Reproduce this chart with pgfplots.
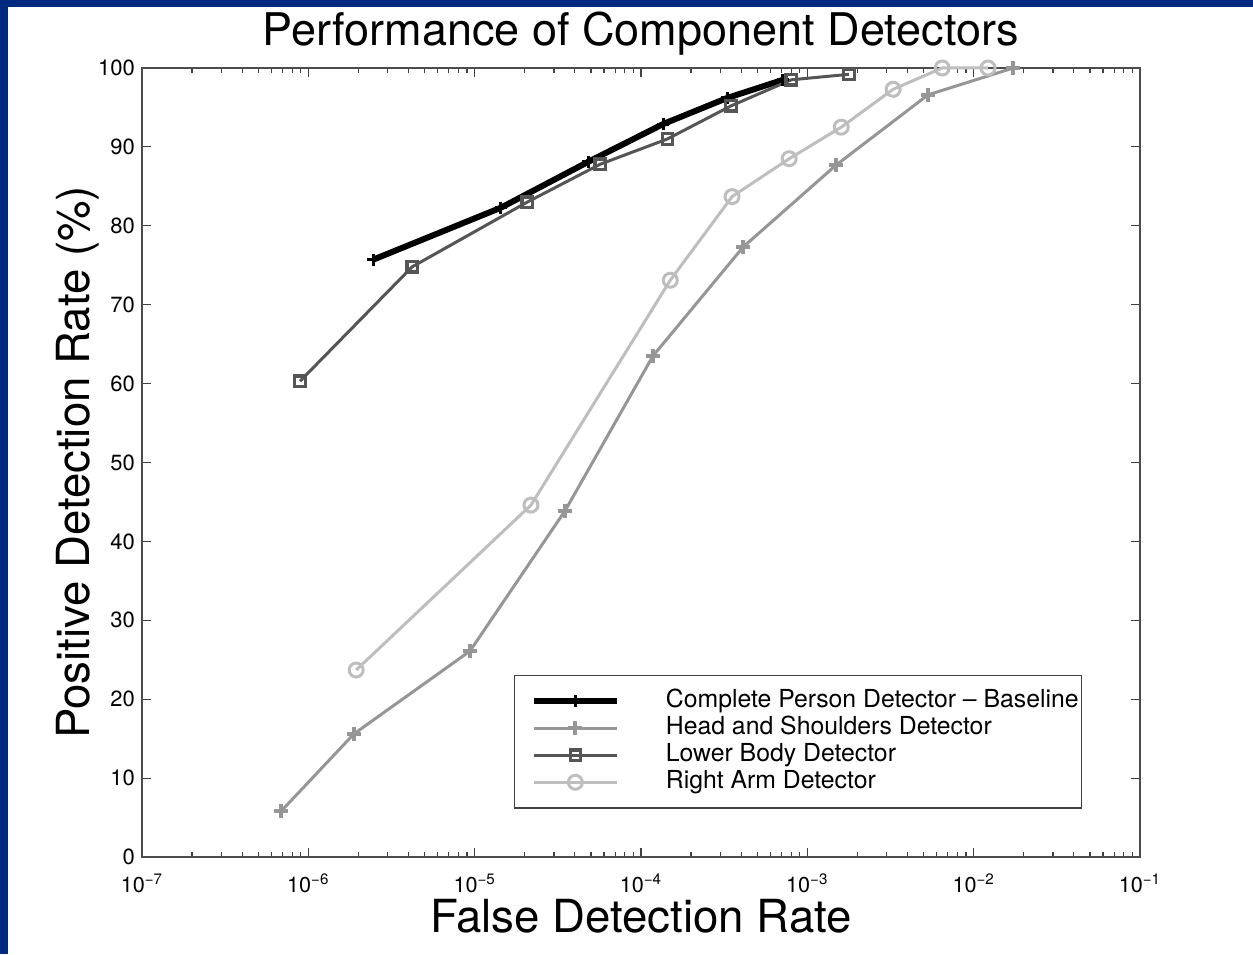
\documentclass[border=0pt]{standalone}
\usepackage{pgfplots}
\pgfplotsset{compat=1.18}
\usepackage{fontspec}
\setmainfont{TeX Gyre Heros}
\definecolor{slideblue}{RGB}{0,42,128}
\definecolor{hsgray}{RGB}{150,150,150}
\definecolor{lbgray}{RGB}{85,85,85}
\definecolor{ragray}{RGB}{190,190,190}
\begin{document}
\begin{tikzpicture}
% slide background: blue band on top and left
\fill[slideblue] (0,0) rectangle (626.5pt,477pt);
\fill[white] (4pt,0) rectangle (626.5pt,473.5pt);
\useasboundingbox (0,0) rectangle (626.5pt,477pt);
\begin{axis}[
 at={(71pt,48.5pt)},anchor=south west,
 scale only axis,width=499pt,height=394.5pt,
 xmode=log,xmin=1e-7,xmax=1e-1,
 xtick={1e-7,1e-6,1e-5,1e-4,1e-3,1e-2,1e-1},
 xticklabels={10\textsuperscript{−7},10\textsuperscript{−6},10\textsuperscript{−5},10\textsuperscript{−4},10\textsuperscript{−3},10\textsuperscript{−2},10\textsuperscript{−1}},
 ymin=0,ymax=100,ytick={0,10,...,100},
 /pgf/number format/assume math mode=true,
 tick align=inside,
 major tick length=4.5pt,minor tick length=2.5pt,
 tick style={black!75,line width=0.6pt},
 axis line style={black!70,line width=0.7pt},
 xticklabel style={font=\fontsize{10.8}{12}\selectfont,anchor=base,yshift=-17.5pt},
 yticklabel style={font=\fontsize{11}{12}\selectfont},
 every axis title shift=0pt,
 title={Performance of Component Detectors},
 title style={font=\fontsize{22.5}{26}\selectfont,at={(0.5,1)},anchor=base,yshift=11pt},
 xlabel={False Detection Rate},
 xlabel style={font=\fontsize{22.8}{26}\selectfont,at={(0.5,0)},anchor=base,yshift=-37.5pt},
 ylabel={Positive Detection Rate (\%)},
 ylabel style={font=\fontsize{22.8}{26}\selectfont,at={(0,0.5)},anchor=base,yshift=26pt},
 clip=false,
 legend style={at={(0.373,0.2307)},anchor=north west,
   draw=black!75,line width=0.6pt,inner xsep=1.5pt,inner ysep=7pt,
   row sep=1.8pt,font=\fontsize{12.4}{14}\selectfont,
   nodes={inner sep=0pt,text height=9pt,text depth=2.7pt}},
 legend cell align=left,
 legend image code/.code={
   \draw[mark repeat=2,mark phase=2,#1] plot coordinates {(6.5pt,0pt)(27.25pt,0pt)(48pt,0pt)};
   \path (0pt,0pt) (71pt,0pt);},
]
\addplot[black,line width=3pt,mark=+,mark size=3pt,mark options={line width=1.5pt}] coordinates {
(2.45e-6,75.7) (1.44e-5,82.3) (4.81e-5,88.1) (1.36e-4,92.9) (3.30e-4,96.2) (7.14e-4,98.5)
};
\addlegendentry{Complete Person Detector – Baseline}
\addplot[hsgray,line width=1.5pt,mark=+,mark size=3.5pt,mark options={line width=2pt}] coordinates {
(6.86e-7,5.8) (1.88e-6,15.6) (9.37e-6,26.1) (3.50e-5,43.9) (1.18e-4,63.5) (4.11e-4,77.3) (1.49e-3,87.7) (5.32e-3,96.6) (1.73e-2,100)
};
\addlegendentry{Head and Shoulders Detector}
\addplot[lbgray,line width=1.5pt,mark=square,mark size=2.6pt,mark options={line width=1.6pt}] coordinates {
(8.91e-7,60.3) (4.21e-6,74.8) (2.07e-5,83.0) (5.68e-5,87.8) (1.44e-4,91.0) (3.48e-4,95.2) (8.00e-4,98.5) (1.78e-3,99.2)
};
\addlegendentry{Lower Body Detector}
\addplot[ragray,line width=1.5pt,mark=o,mark size=3.5pt,mark options={line width=1.5pt}] coordinates {
(1.94e-6,23.7) (2.18e-5,44.6) (1.50e-4,73.1) (3.53e-4,83.7) (7.78e-4,88.5) (1.60e-3,92.5) (3.28e-3,97.3) (6.47e-3,100) (1.22e-2,100)
};
\addlegendentry{Right Arm Detector}
\end{axis}
\end{tikzpicture}
\end{document}
